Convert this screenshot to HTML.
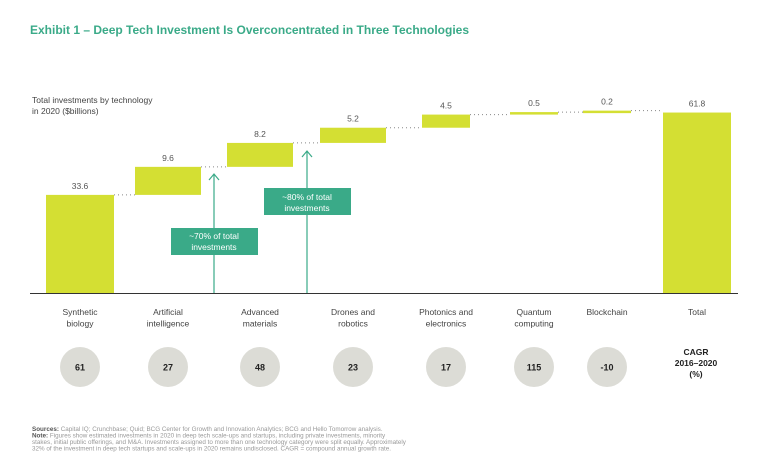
<!DOCTYPE html>
<html><head><meta charset="utf-8"><style>
body{margin:0;background:#fff;width:768px;height:458px;overflow:hidden;font-family:"Liberation Sans",sans-serif}
</style></head><body>
<svg width="768" height="458" viewBox="0 0 768 458">
<text x="30" y="34" font-size="12" font-weight="bold" fill="#3aaa88">Exhibit 1 – Deep Tech Investment Is Overconcentrated in Three Technologies</text>
<text x="32" y="103" font-size="8.5" fill="#444">Total investments by technology</text>
<text x="32" y="114" font-size="8.5" fill="#444">in 2020 ($billions)</text>
<g id="bars"></g>
<line x1="30" y1="293.5" x2="738" y2="293.5" stroke="#333" stroke-width="1"/>
<g>
<line x1="214" y1="293" x2="214" y2="174" stroke="#3aaa88" stroke-width="1.2"/>
<polyline points="209,180 214,174 219,180" fill="none" stroke="#3aaa88" stroke-width="1.2"/>
<rect x="171" y="228" width="87" height="27" fill="#3aaa88"/>
<text x="214" y="239" font-size="8.5" fill="#fff" text-anchor="middle">~70% of total</text>
<text x="214" y="250" font-size="8.5" fill="#fff" text-anchor="middle">investments</text>
</g>
<g>
<line x1="307" y1="293" x2="307" y2="151" stroke="#3aaa88" stroke-width="1.2"/>
<polyline points="302,157 307,151 312,157" fill="none" stroke="#3aaa88" stroke-width="1.2"/>
<rect x="264" y="188" width="87" height="27" fill="#3aaa88"/>
<text x="307" y="200" font-size="8.5" fill="#fff" text-anchor="middle">~80% of total</text>
<text x="307" y="211" font-size="8.5" fill="#fff" text-anchor="middle">investments</text>
</g>
<g id="labels"></g>
<text x="696" y="355" font-size="8.5" font-weight="bold" fill="#222" text-anchor="middle"><tspan x="696">CAGR</tspan><tspan x="696" dy="11">2016–2020</tspan><tspan x="696" dy="11">(%)</tspan></text>
<g font-size="6.3" fill="#999">
<text x="32" y="431"><tspan font-weight="bold" fill="#555">Sources:</tspan> Capital IQ; Crunchbase; Quid; BCG Center for Growth and Innovation Analytics; BCG and Hello Tomorrow analysis.</text>
<text x="32" y="437.5"><tspan font-weight="bold" fill="#555">Note:</tspan> Figures show estimated investments in 2020 in deep tech scale-ups and startups, including private investments, minority</text>
<text x="32" y="444">stakes, initial public offerings, and M&amp;A. Investments assigned to more than one technology category were split equally. Approximately</text>
<text x="32" y="450.5">32% of the investment in deep tech startups and scale-ups in 2020 remains undisclosed. CAGR = compound annual growth rate.</text>
</g>
</svg>
<script>
const categories=["Synthetic|biology","Artificial|intelligence","Advanced|materials","Drones and|robotics","Photonics and|electronics","Quantum|computing","Blockchain","Total"];
const values=[33.6,9.6,8.2,5.2,4.5,0.5,0.2,61.8];
const cagr=[61,27,48,23,17,115,-10];
const NS="http://www.w3.org/2000/svg";
const centers=[80,168,260,353,446,534,607,697];
const widths=[68,66,66,66,48,48,48,68];
const base=293, k=2.92;
const y=v=>base-v*k;
const bars=document.getElementById('bars'), labels=document.getElementById('labels');
function mk(tag,attrs,parent){const e=document.createElementNS(NS,tag);for(const a in attrs)e.setAttribute(a,attrs[a]);parent.appendChild(e);return e;}
let cum=0;
values.forEach((v,i)=>{
  const total=i===values.length-1;
  const lo=total?0:cum, hi=total?v:cum+v;
  const x=centers[i]-widths[i]/2;
  const h=Math.max(2.5,y(lo)-y(hi));
  const r=mk('rect',{x:x,y:y(lo)-h,width:widths[i],height:h,fill:'#d4df33'},bars);
  
  
  const t=mk('text',{x:centers[i],y:y(lo)-h-6,'font-size':8.5,fill:'#555','text-anchor':'middle'},bars);
  t.textContent=v.toFixed(1);
  
  
  if(i<values.length-1){
    const nx=centers[i+1]-widths[i+1]/2;
    const l=mk('line',{x1:x+widths[i],x2:nx,y1:y(lo)-h,y2:y(lo)-h,stroke:'#888','stroke-width':1,'stroke-dasharray':'1,3'},bars);
    
    
  }
  if(!total)cum+=v;
  const parts=categories[i].split('|');
  parts.forEach((p,j)=>{
    const c=mk('text',{x:centers[i],y:315+j*11.5,'font-size':8.5,fill:'#444','text-anchor':'middle'},labels);
    c.textContent=p;
    
    
  });
  if(i<cagr.length){
    const ci=mk('circle',{cx:centers[i],cy:367,r:20,fill:'#dcdcd6'},labels);
    
    
    const ct=mk('text',{x:centers[i],y:370.5,'font-size':9,'font-weight':'bold',fill:'#222','text-anchor':'middle'},labels);
    ct.textContent=cagr[i];
    
    
  }
});
</script>
</body></html>
